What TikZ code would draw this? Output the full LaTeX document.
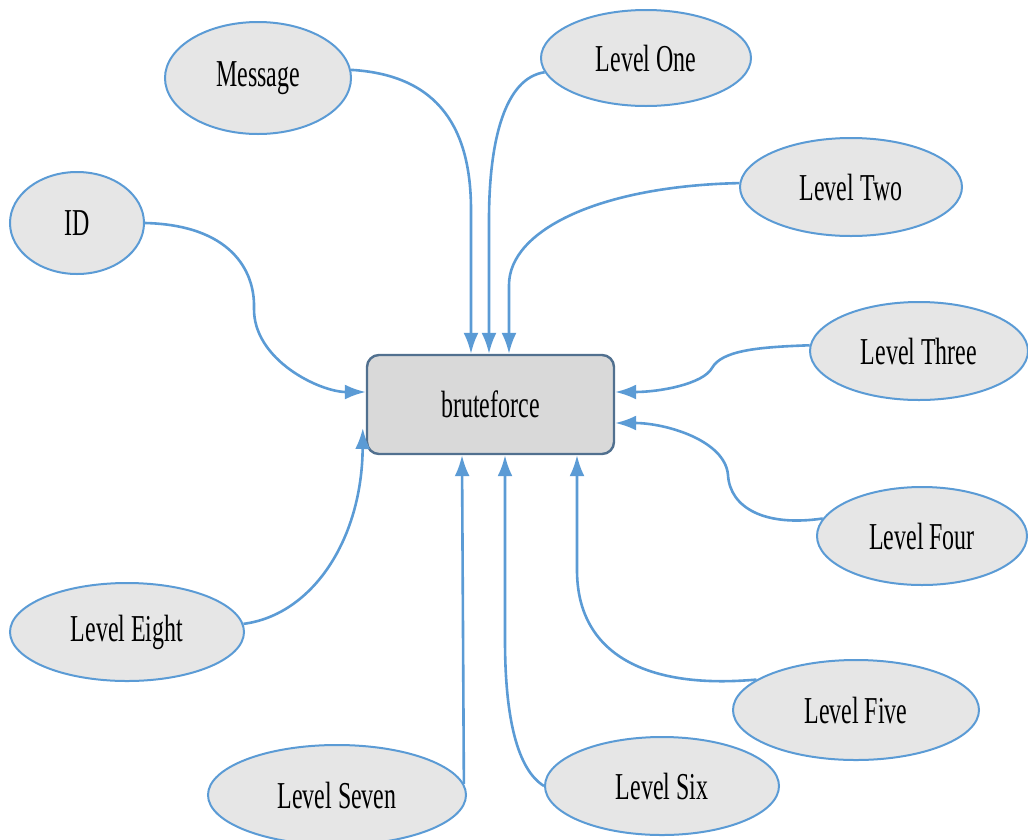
\documentclass[tikz,border=0pt]{standalone}
\usepackage{fontspec}
\setmainfont{Liberation Serif}
\usetikzlibrary{arrows.meta,shapes.geometric}
\definecolor{lineblue}{HTML}{5B9BD5}
\definecolor{ellfill}{HTML}{E6E6E6}
\definecolor{boxfill}{HTML}{D9D9D9}
\definecolor{boxline}{HTML}{51708F}
\newcommand{\lbl}[1]{\scalebox{0.63}[1]{#1}}
\tikzset{
  bubble/.style={ellipse, draw=lineblue, line width=2pt, fill=ellfill, inner sep=0pt,
    font=\fontsize{38}{40}\selectfont},
  centerbox/.style={rectangle, rounded corners=12pt, draw=boxline, line width=2.4pt, fill=boxfill,
    minimum width=247pt, minimum height=99pt, inner sep=0pt, font=\fontsize{38}{40}\selectfont},
  link/.style={draw=lineblue, line width=2.6pt, -{Latex[length=21pt,width=15pt]}}
}
\begin{document}
\begin{tikzpicture}[x=1pt,y=-1pt]
\useasboundingbox (0,0) rectangle (1028,839);
\begin{scope}
\clip (0,0) rectangle (1028,839);
\node[centerbox] (bf) at (490.5,404.5) {\lbl{bruteforce}};
\node[bubble, minimum width=186pt, minimum height=112pt] (msg) at (258,78) {\lbl{Message}};
\node[bubble, minimum width=210pt, minimum height=96pt] (one) at (646,58) {\lbl{Level One}};
\node[bubble, minimum width=222pt, minimum height=98pt] (two) at (851,187) {\lbl{Level Two}};
\node[bubble, minimum width=134pt, minimum height=102pt] (id) at (77,223) {\lbl{ID}};
\node[bubble, minimum width=218pt, minimum height=98pt] (three) at (919,351) {\lbl{Level Three}};
\node[bubble, minimum width=210pt, minimum height=98pt] (four) at (922,536) {\lbl{Level Four}};
\node[bubble, minimum width=234pt, minimum height=98pt] (eight) at (127,632) {\lbl{Level Eight}};
\node[bubble, minimum width=246pt, minimum height=100pt] (five) at (856,710) {\lbl{Level Five}};
\node[bubble, minimum width=258pt, minimum height=100pt] (seven) at (337,795) {\lbl{Level Seven}};
\node[bubble, minimum width=234pt, minimum height=98pt] (six) at (662,786) {\lbl{Level Six}};

\draw[link] (msg.5) .. controls (440,75) and (471,130) .. (471,210) -- ([xshift=-19.5pt]bf.north);
\draw[link] (one.188) .. controls (505,78) and (489,140) .. (489,220) -- ([xshift=-1.5pt]bf.north);
\draw[link] (two.178) .. controls (600,186) and (509,230) .. (509,285) -- ([xshift=18.5pt]bf.north);
\draw[link] (id.east) .. controls (230,225) and (255,270) .. (254,308) .. controls (253,360) and (320,392) .. ([yshift=12.5pt]bf.west);
\draw[link] (three.177) .. controls (760,347) and (722,350) .. (712,368) .. controls (703,384) and (660,392) .. ([yshift=12.5pt]bf.east);
\draw[link] (four.170) .. controls (765,527) and (730,508) .. (728,475) .. controls (725,440) and (665,423) .. ([yshift=-18.5pt]bf.east);
\draw[link] (eight.4) .. controls (312,615) and (362,540) .. ([xshift=-3pt,yshift=-23.5pt]bf.west);
\draw[link] (seven.5) -- ([xshift=-28.5pt]bf.south);
\draw[link] (six.west) .. controls (518,770) and (505,720) .. (505,640) -- ([xshift=14.5pt]bf.south);
\draw[link] (five.163) .. controls (640,690) and (577,650) .. (577,570) -- ([xshift=86.5pt]bf.south);
\end{scope}
\end{tikzpicture}
\end{document}
